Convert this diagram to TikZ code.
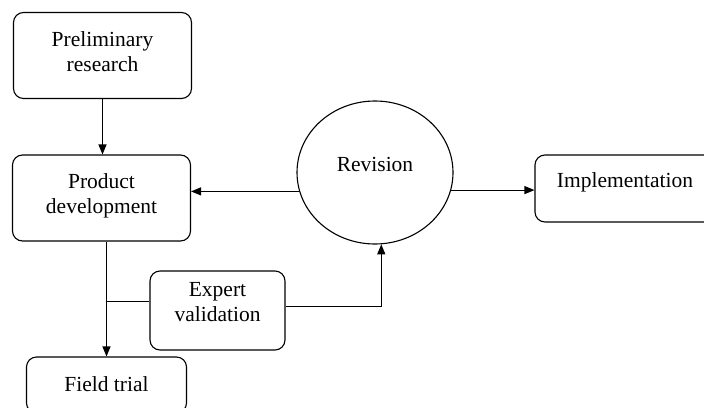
\documentclass[tikz,border=0pt]{standalone}
\usepackage{fontspec}
\setmainfont{Liberation Serif}
\usetikzlibrary{arrows.meta,shapes.geometric}

\tikzset{
    box/.style={draw, rounded corners=10pt, align=center, inner sep=0pt,
        font=\fontsize{21.5}{25}\selectfont},
    oneline/.style={text height=15pt, text depth=17pt},
    twoline/.style={text depth=8pt},
    link/.style={-{Triangle[length=10pt,width=8pt]}}
}

\begin{document}
\begin{tikzpicture}[x=1pt,y=-1pt,line width=1.1pt]
                \useasboundingbox (0,0) rectangle (704,407);
                \clip (0,0) rectangle (704,407);

                \node[box, twoline, minimum width=178pt, minimum height=86pt] (prelim) at (102.5,55.5) {Preliminary\\research};
                \node[box, twoline, minimum width=178pt, minimum height=86pt] (product) at (101.5,198) {Product\\development};
                \node[box, twoline, text depth=18pt, minimum width=135pt, minimum height=79pt] (expert) at (217.5,310.5) {Expert\\validation};
                \node[box, oneline, text depth=3pt, minimum width=160pt, minimum height=56pt] (field) at (106.5,385) {Field trial};
                \node[box, oneline, minimum width=180pt, minimum height=67pt] (impl) at (625,188.5) {Implementation};

                \node[draw, ellipse, inner sep=0pt, minimum width=156pt, minimum height=143pt,
                    font=\fontsize{21.5}{25}\selectfont, text height=15pt, text depth=18pt] (revision) at (375,172.5) {Revision};

                \draw[link] (prelim.south) -- (prelim.south |- product.north);
                \draw[link] (product.south -| field.north) -- (field.north);
                \draw ([yshift=9pt]expert.west) -- ([yshift=9pt]expert.west -| field.north);
                \draw[link] ([yshift=4pt]expert.east) -| (revision.-85);
                \draw[link] (revision.194) -- (revision.194 -| product.east);
                \draw[link] (revision.-13.5) -- (revision.-13.5 -| impl.west);
            \end{tikzpicture}
\end{document}
